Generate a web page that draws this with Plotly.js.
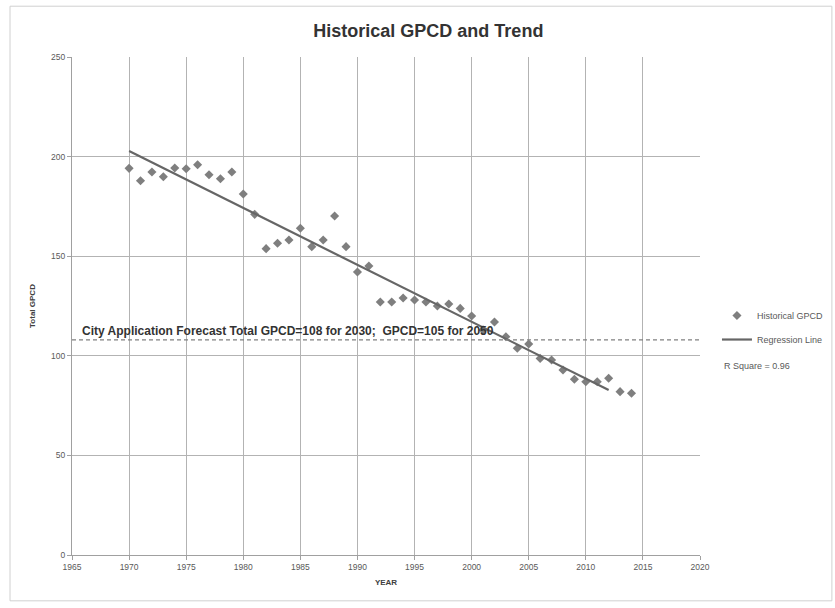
<!DOCTYPE html>
<html>
<head>
<meta charset="utf-8">
<script src="https://cdn.plot.ly/plotly-3.0.1.min.js"></script>
<style>html,body{margin:0;padding:0;background:#fff;}#chart{width:835px;height:608px;}</style>
</head>
<body>
<div id="chart"></div>
<script>
var years = [1970,1971,1972,1973,1974,1975,1976,1977,1978,1979,1980,1981,1982,1983,1984,1985,1986,1987,1988,1989,1990,1991,1992,1993,1994,1995,1996,1997,1998,1999,2000,2001,2002,2003,2004,2005,2006,2007,2008,2009,2010,2011,2012,2013,2014];
var gpcd = [194.1,187.9,192.3,189.9,194.3,193.9,195.9,190.9,188.9,192.3,181.2,171.0,153.8,156.5,158.1,164.0,154.8,158.1,170.2,154.8,142.1,145.1,127.0,127.0,129.0,128.0,127.0,125.0,126.0,123.8,120.0,113.0,117.0,109.6,103.8,105.9,98.7,97.9,92.9,88.2,87.0,87.0,88.7,82.0,81.2];
var regYears = [1970, 2012];
var regValues = [202.8, 82.8];
var forecastValue = 108;
var xRange = [1965, 2020];
var yRange = [0, 250];

var font = "Liberation Sans, Arial, sans-serif";
var traces = [
  {x: years, y: gpcd, type: 'scatter', mode: 'markers', name: 'Historical GPCD', legendgroup: 'a',
   marker: {symbol: 'diamond', size: 7, color: '#7f7f7f'}},
  {x: regYears, y: regValues, type: 'scatter', mode: 'lines', name: 'Regression Line', legendgroup: 'b',
   line: {color: '#666666', width: 2.2}}
];
var layout = {
  width: 835, height: 608,
  margin: {l: 72, r: 135, t: 57, b: 53, autoexpand: false},
  paper_bgcolor: '#ffffff', plot_bgcolor: '#ffffff',
  font: {family: font, color: '#404040'},
  title: {text: '<b>Historical GPCD and Trend</b>', font: {size: 18, color: '#333333', family: font}, x: 0.513, xanchor: 'center', y: 0.95, yanchor: 'middle'},
  xaxis: {range: xRange, dtick: 5, tick0: 1965, showgrid: true, gridcolor: '#b3b3b3', gridwidth: 1,
    showline: true, linecolor: '#a0a0a0', linewidth: 1, ticks: 'outside', ticklen: 4, tickcolor: '#a0a0a0',
    tickfont: {size: 8.5, color: '#595959'}, zeroline: false,
    title: {text: '<b>YEAR</b>', font: {size: 8, color: '#404040'}, standoff: 8}},
  yaxis: {range: yRange, dtick: 50, showgrid: true, gridcolor: '#b3b3b3', gridwidth: 1,
    showline: true, linecolor: '#a0a0a0', linewidth: 1, ticks: 'outside', ticklen: 4, tickcolor: '#a0a0a0',
    tickfont: {size: 8.5, color: '#595959'}, zeroline: false,
    title: {text: '<b>Total GPCD</b>', font: {size: 8, color: '#404040'}, standoff: 14}},
  showlegend: true,
  legend: {x: 1.027, y: 0.51, xanchor: 'left', yanchor: 'top', font: {size: 9, color: '#595959'},
    bgcolor: 'rgba(0,0,0,0)', traceorder: 'grouped', tracegroupgap: 5, itemwidth: 30},
  shapes: [
    {type: 'line', xref: 'paper', x0: 0, x1: 1, yref: 'y', y0: forecastValue, y1: forecastValue,
     line: {color: '#808080', width: 1.2, dash: '4px,3px'}},
    {type: 'rect', xref: 'paper', yref: 'paper', x0: -0.0987, x1: 1.21, y0: -0.092, y1: 1.102,
     line: {color: '#d0d0d0', width: 1}, fillcolor: 'rgba(0,0,0,0)', layer: 'below'}
  ],
  annotations: [
    {xref: 'paper', yref: 'y', x: 0.012, y: forecastValue, xanchor: 'left', yanchor: 'bottom', yshift: 0,
     text: '<b>City Application Forecast Total GPCD=108 for 2030;  GPCD=105 for 2050</b>', showarrow: false,
     font: {size: 12, color: '#333333'}},
    {xref: 'paper', yref: 'paper', x: 1.035, y: (555-366)/498, xanchor: 'left', yanchor: 'middle',
     text: 'R Square = 0.96', showarrow: false, font: {size: 9, color: '#595959'}}
  ]
};
Plotly.newPlot('chart', traces, layout, {displayModeBar: false, staticPlot: true});
</script>
</body>
</html>
